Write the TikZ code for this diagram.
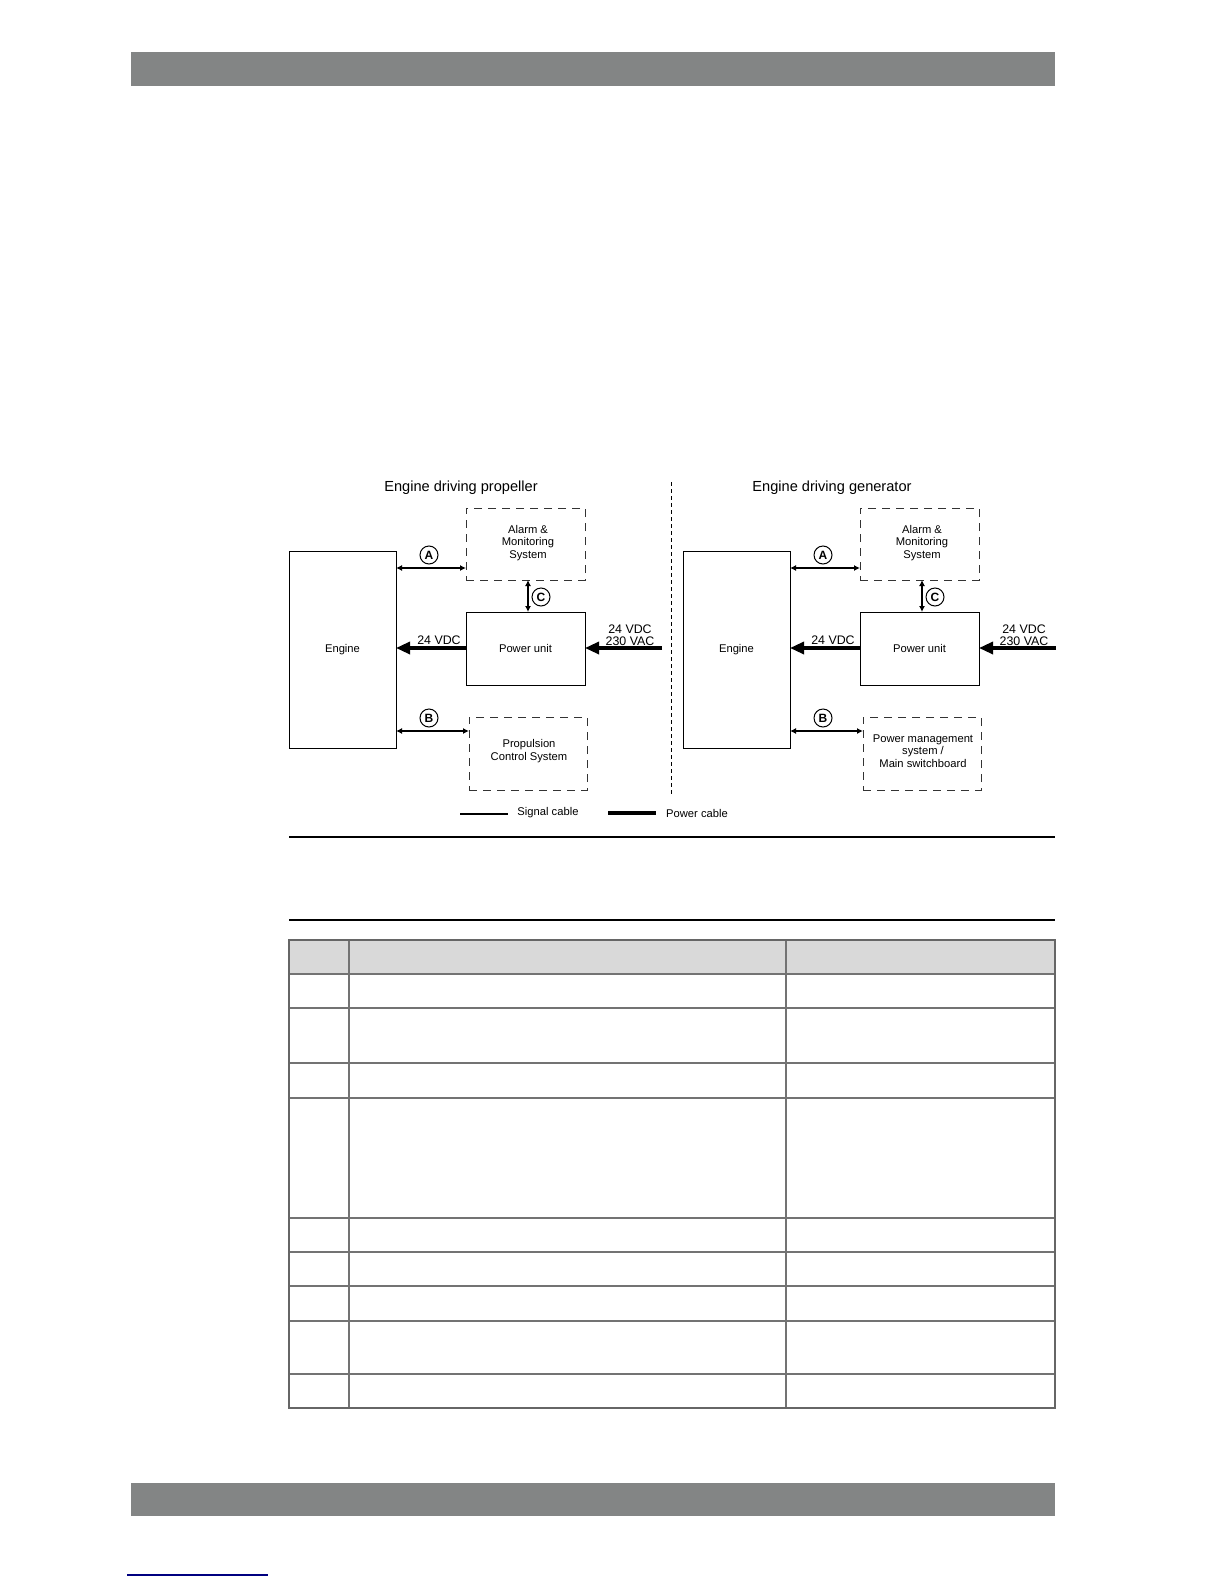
\documentclass[tikz,border=0pt]{standalone}
\usepackage{fontspec}
\setmainfont{Liberation Sans}
\usetikzlibrary{arrows.meta}
\definecolor{bar}{HTML}{838585}
\definecolor{hdr}{HTML}{D9D9D9}
\begin{document}
\begin{tikzpicture}[x=0.5pt,y=-0.5pt,
  box/.style={draw,line width=0.5pt},
  dbox/.style={draw,dashed,line width=0.5pt,dash pattern=on 4pt off 3pt,draw=black!80},
  sig/.style={line width=0.6pt,{Latex[length=3pt,width=3pt]}-{Latex[length=3pt,width=3pt]}},
  pwr/.style={line width=1.6pt,-{Triangle[length=7pt,width=6pt]}},
  lab/.style={font=\fontsize{5.6}{6.2}\selectfont,align=center},
  circ/.style={circle,draw,line width=0.5pt,inner sep=0pt,minimum size=9pt,font=\fontsize{6}{6}\selectfont\bfseries}]
\useasboundingbox (0,0) rectangle (1224,1584);
\fill[bar] (131,52) rectangle (1055,86);
\fill[bar] (131,1483) rectangle (1055,1516);
\draw[blue!50!black,line width=0.6pt] (127,1575) -- (268,1575);
% titles
\node[font=\fontsize{7.3}{8}\selectfont] (t1) at (461,488) {Engine driving propeller};
\node[font=\fontsize{7.3}{8}\selectfont] (t2) at (832,488) {Engine driving generator};
\draw[dashed,dash pattern=on 2pt off 1.5pt,line width=0.5pt] (671,482) -- (671,795);
\foreach \dx/\n/\pl in {0/L/{Propulsion\\Control System},394/R/{Power management\\system /\\Main switchboard}}{
  \begin{scope}[xshift=\dx*0.5pt]
  \node[box,minimum width=53.5pt,minimum height=98.5pt,lab] (eng\n) at (342.5,649.5) {Engine};
  \node[dbox,minimum width=59.5pt,minimum height=36pt] (ams\n) at (525.5,544) {};
  \node[lab] at (528,543) {Alarm \&\\Monitoring\\System};
  \node[box,minimum width=59.5pt,minimum height=36.5pt,lab] (pu\n) at (525.5,648.5) {Power unit};
  \node[dbox,minimum width=59pt,minimum height=36.5pt] (pcs\n) at (528,753.5) {};
  \node[lab] at (529,751) {\pl};
  \coordinate (a1\n) at (396,568); \coordinate (a2\n) at (466,568);
  \draw[sig] (a1\n) -- (a2\n);
  \node[circ] (cA\n) at (429,555) {A};
  \coordinate (b1\n) at (396,731); \coordinate (b2\n) at (469,731);
  \draw[sig] (b1\n) -- (b2\n);
  \node[circ] (cB\n) at (429,718) {B};
  \coordinate (c1\n) at (528,580); \coordinate (c2\n) at (528,612);
  \draw[sig] (c1\n) -- (c2\n);
  \node[circ] (cC\n) at (541,597) {C};
  \coordinate (p1\n) at (466,648); \coordinate (p2\n) at (396,648);
  \draw[pwr] (p1\n) -- (p2\n);
  \node[lab,font=\fontsize{6.2}{6.5}\selectfont] at (439,640) {24 VDC};
  \coordinate (i1\n) at (662,648); \coordinate (i2\n) at (585,648);
  \draw[pwr] (i1\n) -- (i2\n);
  \node[lab,font=\fontsize{6.2}{6.2}\selectfont] at (630,635) {24 VDC\\230 VAC};
  \end{scope}}
% legend
\coordinate (s1) at (460,814); \coordinate (s2) at (508,814);
\draw[line width=0.7pt] (s1) -- (s2);
\node[lab] (sl) at (548,813) {Signal cable};
\coordinate (w1) at (608,813); \coordinate (w2) at (656,813);
\draw[line width=1.6pt] (w1) -- (w2);
\node[lab] (wl) at (697,813) {Power cable};
% rules
\draw[line width=0.8pt] (289,837) -- (1055,837);
\draw[line width=0.8pt] (289,920) -- (1055,920);
% table
\fill[hdr] (289,940) rectangle (1055,974);
\foreach \y in {974,1008,1063,1098,1218,1252,1286,1321,1374}
  \draw[black!55,line width=0.6pt] (289,\y) -- (1055,\y);
\draw[black!55,line width=0.6pt] (349,940) -- (349,1408) (786,940) -- (786,1408);
\draw[black!60,line width=1pt] (289,940) rectangle (1055,1408);
\end{tikzpicture}
\end{document}
